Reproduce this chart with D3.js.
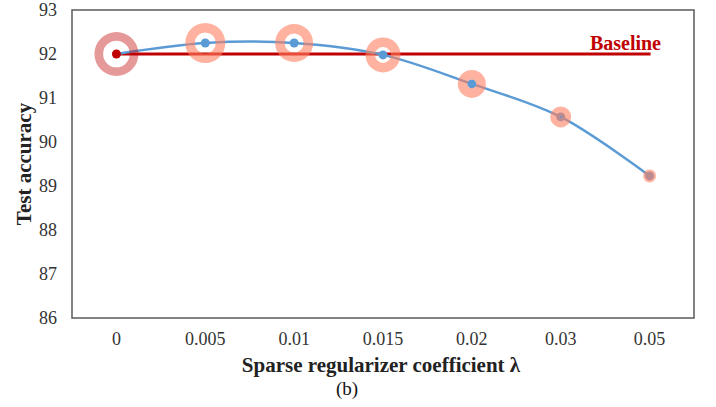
<!DOCTYPE html>
<html><head><meta charset="utf-8">
<script src="https://cdn.jsdelivr.net/npm/d3@7"></script>
<style>body{margin:0;background:#fff}svg{display:block}
text{font-family:"Liberation Serif","Times New Roman",serif}</style>
</head><body>
<svg id="c" width="716" height="407"></svg>
<script>
const categories = ["0","0.005","0.01","0.015","0.02","0.03","0.05"];
const accuracy = [92.0, 92.25, 92.25, 91.98, 91.32, 90.57, 89.23];
const bubbleSize = [22, 20, 19, 17.5, 14, 10.5, 6.5];
const baselineValue = 92.0;
const yTicks = [86,87,88,89,90,91,92,93];

const svg = d3.select("#c");
const L=72, R=694, T=10, B=318;
const x = d3.scaleBand().domain(categories).range([L,R]);
const y = d3.scaleLinear().domain([86,93]).range([B,T]);
const cx = d => x(d)+x.bandwidth()/2;
const serif = '"Liberation Serif","Times New Roman",serif';

svg.append("rect").attr("x",L).attr("y",T).attr("width",R-L).attr("height",B-T)
  .attr("fill","none").attr("stroke","#595959").attr("stroke-width",1.5);

// y axis
const ya = svg.append("g").attr("transform",`translate(${L},0)`)
  .call(d3.axisLeft(y).tickValues(yTicks).tickFormat(d3.format("d")).tickSize(0).tickPadding(15));
ya.attr("font-family",null);
ya.select(".domain").remove();
ya.selectAll("text").style("font-family",serif).attr("font-size",18).attr("fill","#333");

// x axis
const xa = svg.append("g").attr("transform",`translate(0,${B})`)
  .call(d3.axisBottom(x).tickSize(0).tickPadding(14));
xa.attr("font-family",null);
xa.select(".domain").remove();
xa.selectAll("text").style("font-family",serif).attr("font-size",18).attr("fill","#333");

// baseline
svg.append("line").attr("x1",cx(categories[0])).attr("x2",cx(categories[6])+1)
  .attr("y1",y(baselineValue)).attr("y2",y(baselineValue))
  .attr("stroke","#c00000").attr("stroke-width",3);
svg.append("text").attr("x",661).attr("y",50).attr("text-anchor","end")
  .style("font-family",serif).attr("font-weight","bold").attr("font-size",20)
  .attr("fill","#c00000").text("Baseline");

// smooth line
const pts = categories.map((c,i)=>[cx(c), y(accuracy[i])]);
svg.append("path").attr("d", d3.line().curve(d3.curveCatmullRom.alpha(0.5))(pts))
  .attr("fill","none").attr("stroke","#5b9bd5").attr("stroke-width",2.5);

// center dots
svg.selectAll("circle.dot").data(categories).join("circle")
  .attr("cx",d=>cx(d)).attr("cy",(d,i)=>y(accuracy[i])).attr("r",4.5)
  .attr("fill",(d,i)=>i===0?"#c00000":"#5b9bd5");

// rings
const arc = d3.arc().startAngle(0).endAngle(2*Math.PI);
svg.selectAll("path.ring").data(categories).join("path")
  .attr("transform",(d,i)=>`translate(${cx(d)},${y(accuracy[i])})`)
  .attr("d",(d,i)=>{const Ro=bubbleSize[i]; const t=i===0?8.7:9.5;
     return arc({innerRadius:Math.max(0,Ro-t), outerRadius:Ro});})
  .attr("fill",(d,i)=>i===0?"#c00000":"#ff7f5f")
  .attr("opacity",(d,i)=>i===0?0.4:0.6);

// titles
svg.append("text").attr("x",381).attr("y",372).attr("text-anchor","middle")
  .style("font-family",serif).attr("font-weight","bold").attr("font-size",21).attr("fill","#222")
  .text("Sparse regularizer coefficient λ");
svg.append("text").attr("x",347).attr("y",395).attr("text-anchor","middle")
  .style("font-family",serif).attr("font-size",19).attr("fill","#111").text("(b)");
svg.append("text").attr("transform","translate(31,164) rotate(-90)").attr("text-anchor","middle")
  .style("font-family",serif).attr("font-weight","bold").attr("font-size",21).attr("fill","#222")
  .text("Test accuracy");
</script>
</body></html>
